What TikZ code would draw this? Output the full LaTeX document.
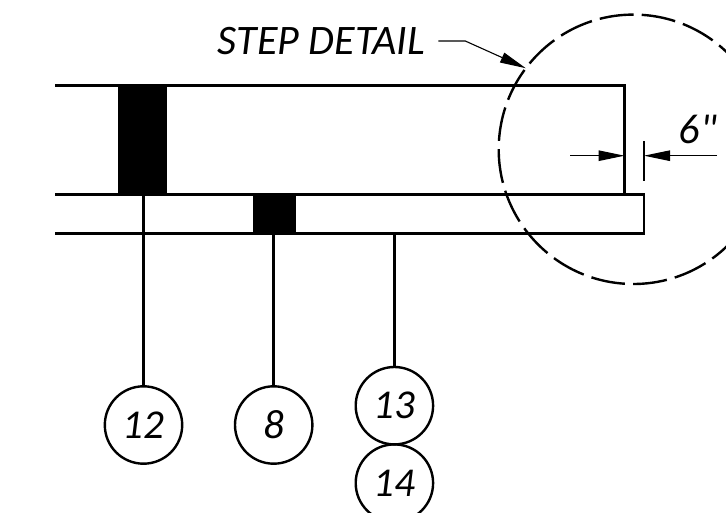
\documentclass[tikz,border=0pt]{standalone}
\usepackage{fontspec}
\setmainfont{Carlito}[Ligatures=TeXOff]
\usetikzlibrary{arrows.meta,calc,positioning}

\begin{document}
\begin{tikzpicture}[x=1pt,y=1pt,
          bubble/.style={circle,draw,line width=2.4pt,minimum size=77.4pt,inner sep=0pt,outer sep=0pt,font=\fontsize{41}{41}\selectfont\itshape},
          post/.style={rectangle,fill=black,inner sep=0pt,outer sep=0pt},
          callout/.style={inner sep=0pt,font=\fontsize{42}{42}\selectfont\itshape},
          ring/.style={circle,draw,line width=2.4pt,minimum size=269.4pt,inner sep=0pt,outer sep=0pt,dash pattern=on 34.1pt off 8.2pt},
          wall/.style={line width=2.8pt},
          leader/.style={line width=2.6pt},
          thinline/.style={line width=1.1pt},
          head/.style={-{Triangle[length=26pt,width=10.5pt]}}]

                \clip (0,0) rectangle (726,512);

                \node (postA) [post,minimum width=48.7pt,minimum height=109pt] at (142.6,372.5) {};
                \node (postB) [post,minimum width=42.7pt,minimum height=39pt] at (274.6,298.5) {};

                \draw[wall] (55,426.5) -- (624.5,426.5) -- (624.5,317.6);
                \draw[wall] (55,317.6) -- (644,317.6) -- (644,278.6) -- (55,278.6);

                \node (ringA) [ring] at (633.4,362.7) {};
                \node (detail) [callout] at (321.5,471) {STEP DETAIL};
                \node (size) [callout] at (698,383) {6"};

                \node (b12) [bubble] at (143.5,87) {12};
                \node (b8) [bubble] at (273.7,87) {8};
                \node (b13) [bubble] at (394.4,106.3) {13};
                \node (b14) [bubble,below = 0pt of b13] {14};

                \coordinate (slabtag) at (394.4,279);
                \coordinate (wallface) at (624.5,356.3);
                \coordinate (slabface) at (644,356.3);

                \draw[leader] (b12.north) -- (b12.north |- postA.south);
                \draw[leader] (b8.north) -- (b8.north |- postB.south);
                \draw[leader] (b13.north) -- (slabtag);

                \draw[thinline,head] ([xshift=13pt]detail.east) -- ++(27,0) -- (ringA.143.5);
                \draw[thinline,head] ($(wallface)+(-54.5,0)$) -- (wallface);
                \draw[thinline,head] ($(slabface)+(73,0)$) -- (slabface);
                \draw[thinline] ($(slabface)+(0,14.3)$) -- ($(slabface)+(0,-25.4)$);
              \end{tikzpicture}
\end{document}
